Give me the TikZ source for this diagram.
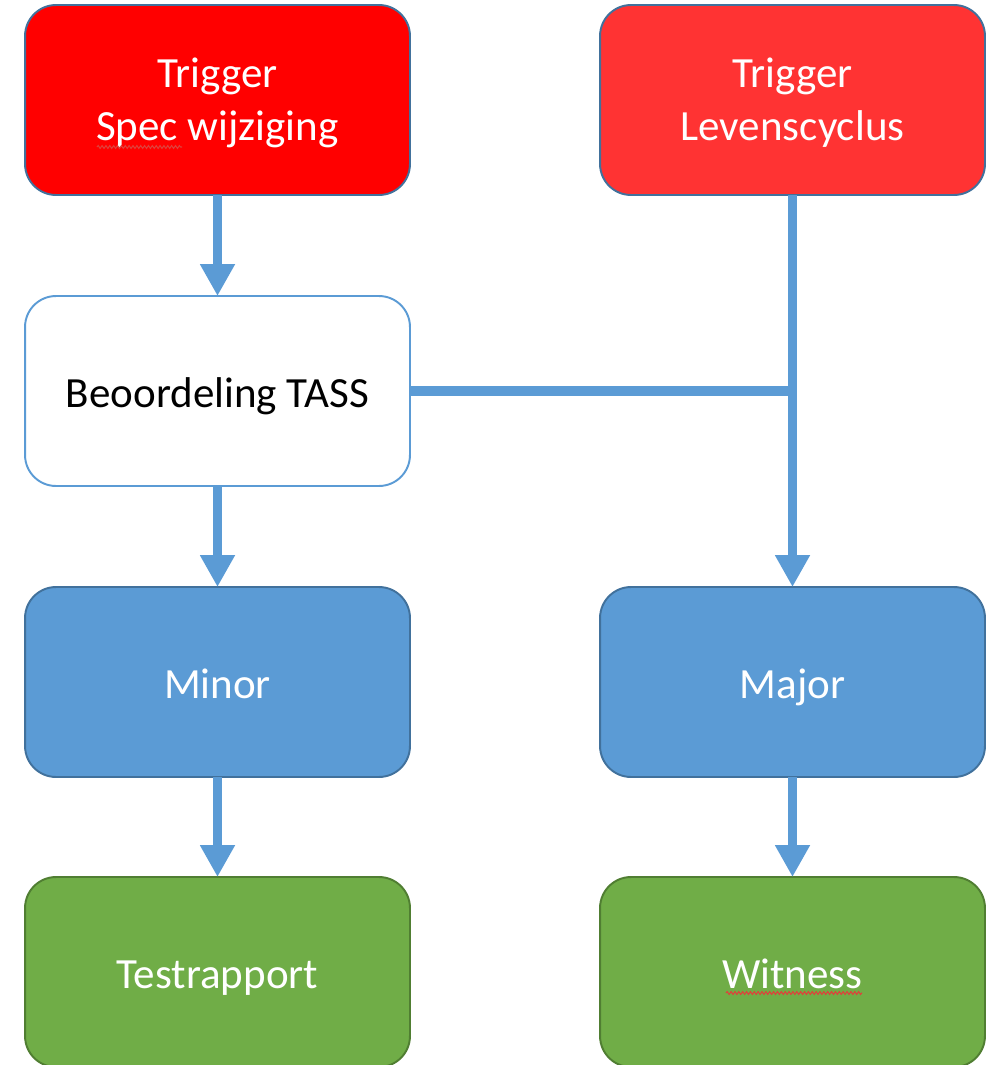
\documentclass[tikz,border=0pt]{standalone}
\usepackage{fontspec}
\setmainfont{Carlito}
\usetikzlibrary{arrows.meta,decorations.pathmorphing}
\definecolor{redA}{HTML}{FF0000}
\definecolor{redB}{HTML}{FF3333}
\definecolor{bluefill}{HTML}{5B9BD5}
\definecolor{blueline}{HTML}{41719C}
\definecolor{greenfill}{HTML}{70AD47}
\definecolor{greenline}{HTML}{507E32}
\definecolor{arrowblue}{HTML}{5B9BD5}
\definecolor{squig}{HTML}{E0403A}
\newcommand{\mytopstrut}{\rule[-9pt]{0pt}{37pt}}
\newcommand{\myredstrut}{\rule[-9pt]{0pt}{34pt}}
\tikzset{
  box/.style={rectangle, rounded corners=0.62cm, minimum width=7.7cm, minimum height=3.8cm,
    inner sep=0pt, outer sep=0pt, line width=1.1pt, align=center,
    font=\fontsize{24.5}{30}\selectfont},
  redbox/.style={box, fill=redA, draw=blueline, text=white},
  redbox2/.style={box, fill=redB, draw=blueline, text=white},
  whitebox/.style={box, fill=white, draw=arrowblue, text=black},
  bluebox/.style={box, fill=bluefill, draw=blueline, text=white},
  greenbox/.style={box, fill=greenfill, draw=greenline, text=white},
  conn/.style={draw=arrowblue, line width=4.6pt},
  arr/.style={conn, -{Triangle[width=0.66cm,length=0.64cm]}},
  hconn/.style={draw=arrowblue, line width=5.6pt},
  squiggle/.style={draw=squig, line width=0.6pt, decorate,
    decoration={snake, amplitude=0.8pt, segment length=2.2pt}}
}
\begin{document}
\begin{tikzpicture}[x=0.02cm,y=-0.02cm]
\useasboundingbox (0,0) rectangle (991,1065);
\clip (0,0) rectangle (991,1065);
\node[redbox]   (spec)  at (217.5,100) {\myredstrut Trigger\\Spec wijziging\rule[-9pt]{0pt}{9pt}};
\node[redbox2]  (leven) at (792.5,100) {\myredstrut Trigger\\Levenscyclus\rule[-9pt]{0pt}{9pt}};
\node[whitebox] (tass)  at (217.5,391) {\mytopstrut Beoordeling TASS};
\node[bluebox]  (minor) at (217.5,682) {\mytopstrut Minor};
\node[bluebox]  (major) at (792.5,682) {\mytopstrut Major};
\node[greenbox] (test)  at (217.5,972) {\mytopstrut Testrapport};
\node[greenbox] (wit)   at (792.5,972) {\mytopstrut Witness};
\coordinate (join) at (leven.south |- tass.east);
\draw[arr] (spec.south) -- (tass.north);
\draw[arr] (tass.south) -- (minor.north);
\draw[arr] (leven.south) -- (major.north);
\draw[hconn] (tass.east) -- ([xshift=2.3pt]join);
\draw[arr] (minor.south) -- (test.north);
\draw[arr] (major.south) -- (wit.north);
\draw[squiggle] (97,147) -- (182,147);
\draw[squiggle] (726,993) -- (862,993);
\end{tikzpicture}
\end{document}
